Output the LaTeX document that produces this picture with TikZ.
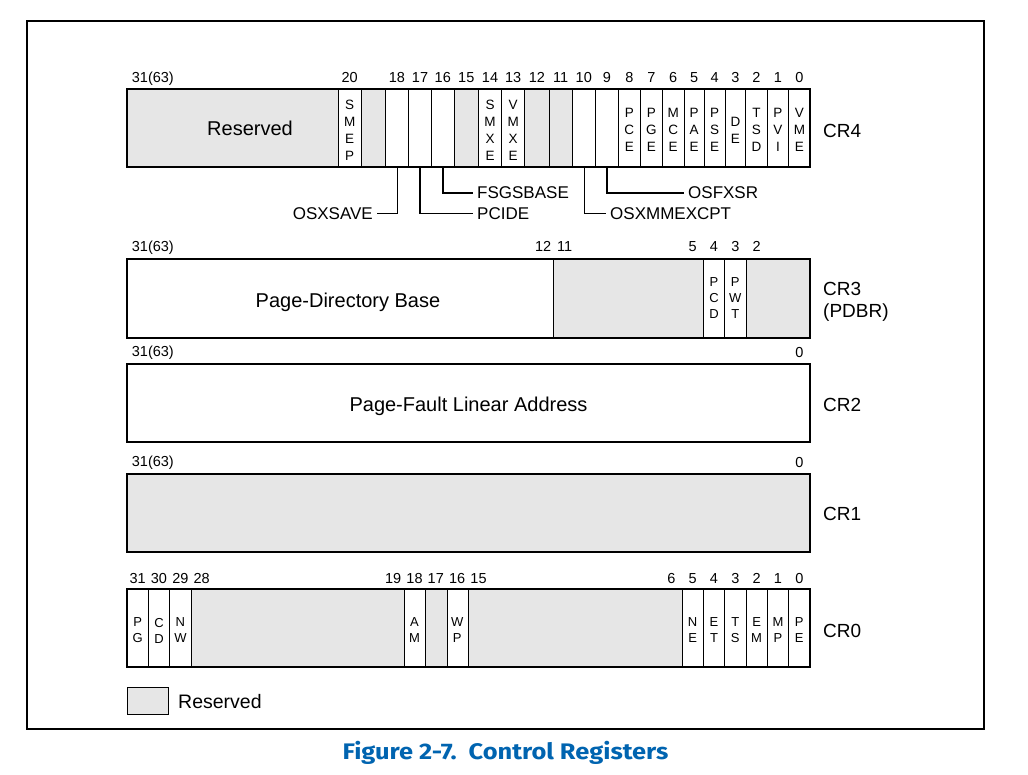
\documentclass[tikz,border=0pt]{standalone}
\usepackage{fontspec}
\setmainfont{Liberation Sans}
\newfontfamily\capfont[FakeStretch=1.13]{Fira Sans}
\definecolor{resgray}{RGB}{230,230,230}
\definecolor{capblue}{RGB}{0,100,176}
\begin{document}
\begin{tikzpicture}[x=1pt,y=-1pt,
  reg/.style={line width=2pt},
  cellline/.style={line width=1pt},
  num/.style={anchor=base,inner sep=0pt,font=\fontsize{14.5}{17}\selectfont},
  numw/.style={anchor=base west,inner sep=0pt,font=\fontsize{14.5}{17}\selectfont},
  bits/.style={align=center,inner sep=0pt,font=\fontsize{13.5}{17}\selectfont},
  bitsz/.style={align=center,inner sep=0pt,font=\fontsize{13}{16}\selectfont},
  crlab/.style={anchor=base west,inner sep=0pt,font=\fontsize{19}{22}\selectfont},
  bigtext/.style={anchor=base,inner sep=0pt,font=\fontsize{20}{24}\selectfont},
  flag/.style={inner xsep=4pt,inner ysep=0pt,font=\fontsize{17}{20}\selectfont},
  leader/.style={line width=1.8pt},
]
\useasboundingbox (0,0) rectangle (1028,775);
\fill[white] (0,0) rectangle (1028,775);
\draw[line width=2pt] (27,21) rectangle (984,729);

% ---------------- CR4 ----------------
\fill[resgray] (127,89) rectangle (338,167);
\fill[resgray] (361.3,89) rectangle (385,167);
\fill[resgray] (454.3,89) rectangle (478.3,167);
\fill[resgray] (524.7,89) rectangle (572.3,167);
\foreach \x in {338,361.3,385,408.7,431.3,454.3,478.3,501.7,524.7,549,572.3,595.3,618.3,640.3,662.3,684,704.3,725,745.7,767,788.7}
  \draw[cellline] (\x,89) -- (\x,167);
\draw[reg] (127,89) rectangle (810,167);
\node[numw] (n4-31) at (131.7,83) {31(63)};
\foreach \b/\x in {20/349.7,18/396.9,17/420,16/442.8,15/466.3,14/490,13/513.2,12/536.9,11/560.7,10/583.8,9/606.8,8/629.3,7/651.3,6/673.2,5/694.2,4/714.7,3/735.4,2/756.4,1/777.9,0/799.4}
  \node[num] (n4-\b) at (\x,83) {\b};
\node[bigtext] (res4) at (250,136) {Reserved};
\node[bits] (l4-20) at (349.7,130) {S\\M\\E\\P};
\node[bits] (l4-14) at (490,130) {S\\M\\X\\E};
\node[bits] (l4-13) at (513.2,130) {V\\M\\X\\E};
\node[bits] (l4-8) at (629.3,130) {P\\C\\E};
\node[bits] (l4-7) at (651.3,130) {P\\G\\E};
\node[bits] (l4-6) at (673.2,130) {M\\C\\E};
\node[bits] (l4-5) at (694.2,130) {P\\A\\E};
\node[bits] (l4-4) at (714.7,130) {P\\S\\E};
\node[bits] (l4-3) at (735.4,130) {D\\E};
\node[bits] (l4-2) at (756.4,130) {T\\S\\D};
\node[bits] (l4-1) at (777.9,130) {P\\V\\I};
\node[bits] (l4-0) at (799.4,130) {V\\M\\E};
\node[crlab] (cr4) at (823,138) {CR4};

\coordinate (c18) at (397.5,167);
\coordinate (c17) at (420,167);
\coordinate (c16) at (442.8,167);
\coordinate (c10) at (584.5,167);
\coordinate (c9) at (606.8,167);
\node[flag,anchor=east] (osxsave) at (377,213.5) {OSXSAVE};
\node[flag,anchor=west] (pcide) at (473,213.5) {PCIDE};
\node[flag,anchor=west] (fsgsbase) at (473,192.7) {FSGSBASE};
\node[flag,anchor=west] (osxmm) at (606,213.5) {OSXMMEXCPT};
\node[flag,anchor=west] (osfxsr) at (684,192.7) {OSFXSR};
\draw[leader] (c18) |- (osxsave.east);
\draw[leader] (c17) |- (pcide.west);
\draw[leader] (c16) |- (fsgsbase.west);
\draw[leader] (c10) |- (osxmm.west);
\draw[leader] (c9) |- (osfxsr.west);

% ---------------- CR3 ----------------
\fill[resgray] (553.9,259) rectangle (703.3,337.7);
\fill[resgray] (746,259) rectangle (810,337.7);
\foreach \x in {553.9,703.3,724.6,746}
  \draw[cellline] (\x,259) -- (\x,337.7);
\draw[reg] (127,259) rectangle (810,337.7);
\node[numw] (n3-31) at (131.7,251.7) {31(63)};
\foreach \b/\x in {12/543.2,11/564.6,5/692.6,4/714,3/735.3,2/756.6}
  \node[num] (n3-\b) at (\x,251.7) {\b};
\node[bitsz] (l3-4) at (714,298.5) {P\\C\\D};
\node[bitsz] (l3-3) at (735.3,298.5) {P\\W\\T};
\node[bigtext] (pdb) at (348,308) {Page-Directory Base};
\node[crlab] (cr3) at (823,296) {CR3};
\node[crlab] (pdbr) at (823,318) {(PDBR)};

% ---------------- CR2 ----------------
\draw[reg] (127,364) rectangle (810,442.3);
\node[numw] (n2-31) at (131.7,357) {31(63)};
\node[num] (n2-0) at (799.3,357.3) {0};
\node[bigtext] (pfla) at (468.5,411.7) {Page-Fault Linear Address};
\node[crlab] (cr2) at (823,411.7) {CR2};

% ---------------- CR1 ----------------
\draw[reg,fill=resgray] (127,474) rectangle (810,551.7);
\node[numw] (n1-31) at (131.7,466.7) {31(63)};
\node[num] (n1-0) at (799.3,467.3) {0};
\node[crlab] (cr1) at (823,520.7) {CR1};

% ---------------- CR0 ----------------
\fill[resgray] (191,589) rectangle (404.5,667);
\fill[resgray] (425.8,589) rectangle (447.2,667);
\fill[resgray] (468.5,589) rectangle (682,667);
\foreach \x in {148.3,169.7,191,404.5,425.8,447.2,468.5,682,703.3,724.6,746,767.3,788.7}
  \draw[cellline] (\x,589) -- (\x,667);
\draw[reg] (127,589) rectangle (810,667);
\foreach \b/\x in {31/137.7,30/159,29/180.4,28/201.7,19/393.2,18/414.5,17/435.8,16/457.2,15/478.5,6/671.3,5/692.6,4/714,3/735.3,2/756.6,1/778,0/799.3}
  \node[num] (n0-\b) at (\x,583) {\b};
\node[bitsz] (l0-31) at (137.7,630.5) {P\\G};
\node[bitsz] (l0-30) at (159,630.5) {C\\D};
\node[bitsz] (l0-29) at (180.4,630.5) {N\\W};
\node[bitsz] (l0-18) at (414.5,630.5) {A\\M};
\node[bitsz] (l0-16) at (457.2,630.5) {W\\P};
\node[bitsz] (l0-5) at (692.6,630.5) {N\\E};
\node[bitsz] (l0-4) at (714,630.5) {E\\T};
\node[bitsz] (l0-3) at (735.3,630.5) {T\\S};
\node[bitsz] (l0-2) at (756.6,630.5) {E\\M};
\node[bitsz] (l0-1) at (778,630.5) {M\\P};
\node[bitsz] (l0-0) at (799.3,630.5) {P\\E};
\node[crlab] (cr0) at (823,637) {CR0};

% ---------------- Legend ----------------
\draw[cellline,fill=resgray] (127,687) rectangle (168,714);
\node[anchor=base west,inner sep=0pt,font=\fontsize{19.5}{22}\selectfont] (legres) at (178,708) {Reserved};

% ---------------- Caption ----------------
\node[anchor=base,inner sep=0pt,text=capblue,font=\capfont\bfseries\fontsize{22.5}{26}\selectfont] (caption) at (505.5,759.3) {Figure 2-7.\ \ Control Registers};
\end{tikzpicture}
\end{document}
